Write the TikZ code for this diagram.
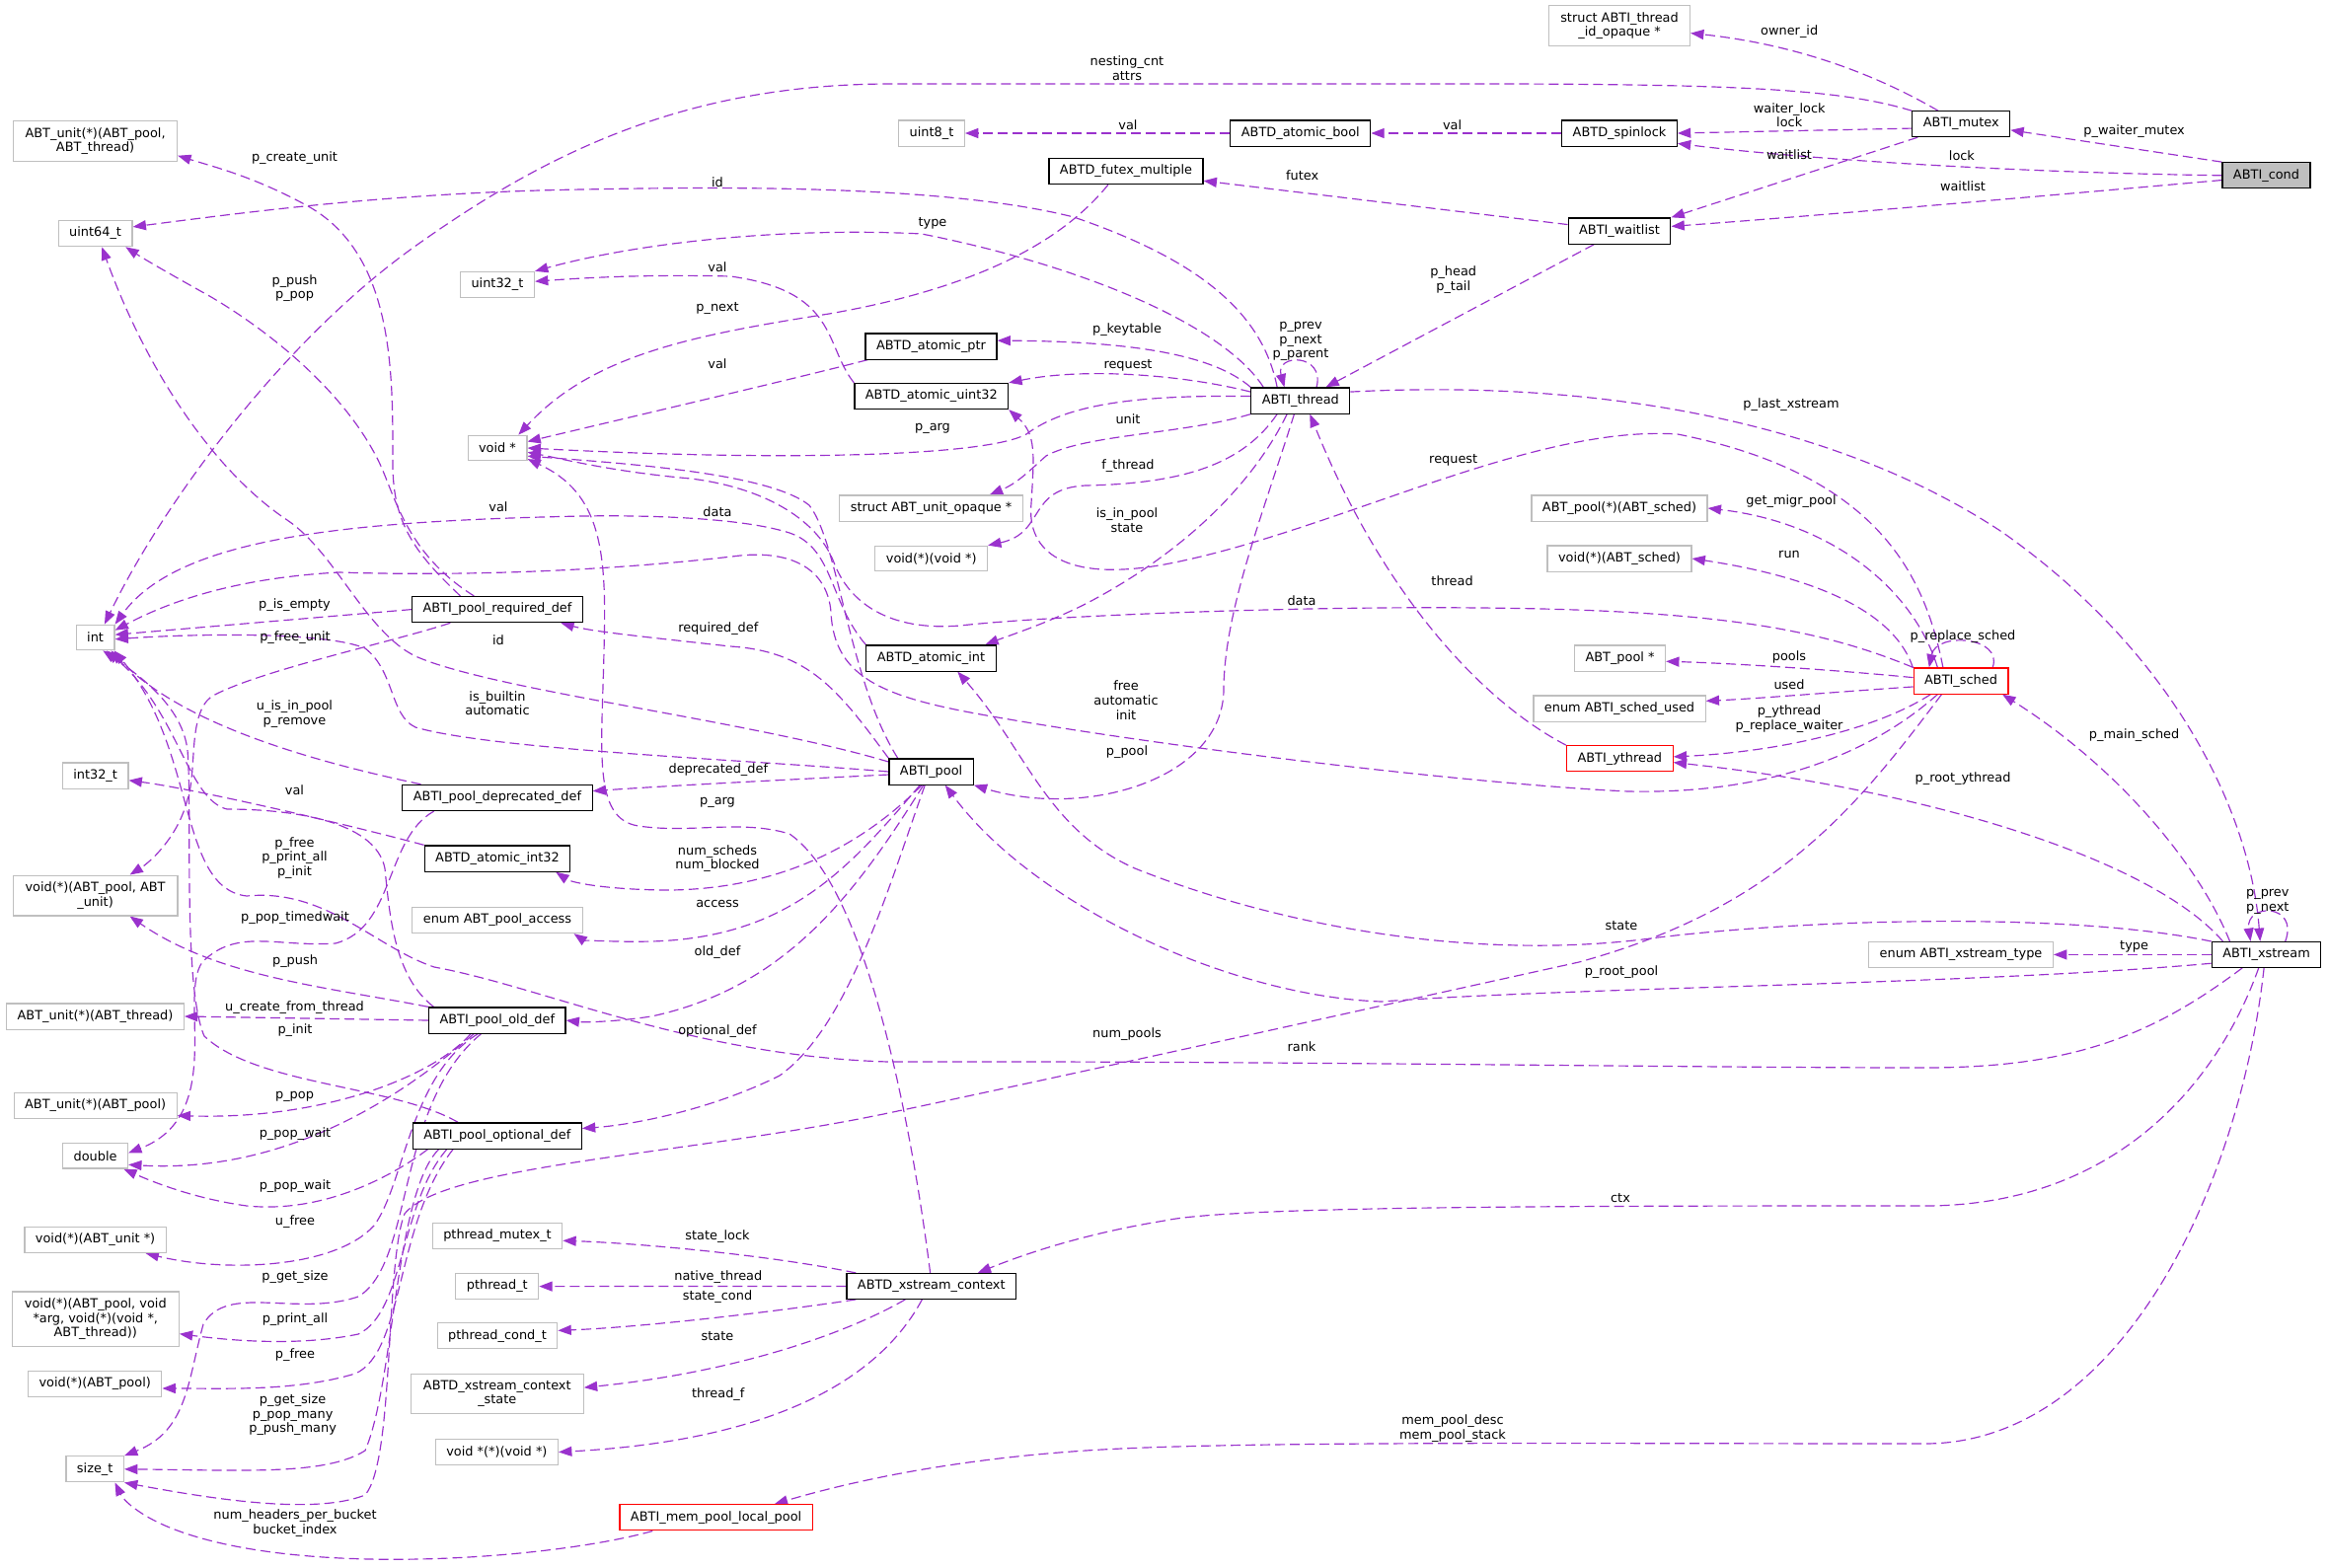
\documentclass[tikz,border=0pt]{standalone}
\usepackage{fontspec}
\setmainfont{DejaVu Sans}
\usepackage{tikz}
\usetikzlibrary{arrows.meta}
\definecolor{edgepurple}{HTML}{9A32CD}
\definecolor{boxgrey}{HTML}{BFBFBF}
\definecolor{boxred}{HTML}{FF0000}
\pgfdeclarelayer{paper}
\pgfdeclarelayer{edges}
\pgfsetlayers{paper,edges,main}

\begin{document}
\begin{tikzpicture}[x=0.03cm, y=-0.03cm,
  font=\fontsize{11}{12.5}\selectfont,
  cls/.style={draw=black, fill=white, line width=1pt, minimum height=0.765cm, inner xsep=0.33cm, inner ysep=0.2cm},
  ext/.style={cls, draw=boxgrey},
  redcls/.style={cls, draw=boxred},
  focus/.style={cls, fill=boxgrey},
  rel/.style={draw=edgepurple, line width=1pt, dash pattern=on 0.3cm off 0.15cm, -{Triangle[length=0.4cm,width=0.3cm]}},
  lbl/.style={align=center, inner sep=0pt}]
  \begin{pgfonlayer}{paper}
    \fill[white] (0,0) rectangle (2359,1588);
  \end{pgfonlayer}
  \useasboundingbox (0,0) rectangle (2359,1588);

  % structs
  \node[focus] (cond) at (2296.5,177.8) {ABTI\_cond};
  \node[cls] (mutex) at (1987.3,125.7) {ABTI\_mutex};
  \node[cls] (spin) at (1641,135) {ABTD\_spinlock};
  \node[cls] (wait) at (1641,234) {ABTI\_waitlist};
  \node[cls] (abool) at (1317.8,135) {ABTD\_atomic\_bool};
  \node[cls] (thread) at (1317.8,406) {ABTI\_thread};
  \node[cls] (futex) at (1141,173.6) {ABTD\_futex\_multiple};
  \node[cls] (aptr) at (943.5,351) {ABTD\_atomic\_ptr};
  \node[cls] (au32) at (943.8,401.5) {ABTD\_atomic\_uint32};
  \node[cls] (aint) at (943.5,667) {ABTD\_atomic\_int};
  \node[cls] (pool) at (943.6,782) {ABTI\_pool};
  \node[cls] (xctx) at (943.8,1303.4) {ABTD\_xstream\_context};
  \node[redcls] (sched) at (1987,690) {ABTI\_sched};
  \node[redcls] (ythread) at (1641.3,768.8) {ABTI\_ythread};
  \node[cls] (xstream) at (2296.5,967.4) {ABTI\_xstream};
  \node[redcls] (mempool) at (725.6,1537.8) {ABTI\_mem\_pool\_local\_pool};
  \node[cls] (reqdef) at (504,617.6) {ABTI\_pool\_required\_def};
  \node[cls] (depdef) at (504,808.4) {ABTI\_pool\_deprecated\_def};
  \node[cls] (ai32) at (504,870) {ABTD\_atomic\_int32};
  \node[cls] (olddef) at (503.8,1034) {ABTI\_pool\_old\_def};
  \node[cls] (optdef) at (503.8,1151) {ABTI\_pool\_optional\_def};

  % plain types
  \node[ext, align=center, minimum width=4.29cm] (tidop) at (1641,26) {struct ABTI\_thread\\\_id\_opaque *};
  \node[ext] (u8) at (944,135) {uint8\_t};
  \node[ext] (unitop) at (943.6,515) {struct ABT\_unit\_opaque *};
  \node[ext] (vfv) at (943.7,566) {void(*)(void *)};
  \node[ext] (poolfs) at (1641,515) {ABT\_pool(*)(ABT\_sched)};
  \node[ext] (vsched) at (1641,566) {void(*)(ABT\_sched)};
  \node[ext] (poolp) at (1641.5,667) {ABT\_pool *};
  \node[ext] (sused) at (1641,718) {enum ABTI\_sched\_used};
  \node[ext] (xtype) at (1987,967.4) {enum ABTI\_xstream\_type};
  \node[ext, align=center, minimum width=4.98cm] (unitPT) at (96.6,143) {ABT\_unit(*)(ABT\_pool,\\ABT\_thread)};
  \node[ext] (u64) at (96.6,236.6) {uint64\_t};
  \node[ext] (u32) at (504,288.5) {uint32\_t};
  \node[ext] (voidp) at (504,454) {void *};
  \node[ext] (int) at (96.6,646) {int};
  \node[ext] (i32) at (96.6,786) {int32\_t};
  \node[ext, align=center, minimum width=5cm] (vpu) at (96.6,907.5) {void(*)(ABT\_pool, ABT\\\_unit)};
  \node[ext] (access) at (504,932.5) {enum ABT\_pool\_access};
  \node[ext] (uthr) at (96.5,1030) {ABT\_unit(*)(ABT\_thread)};
  \node[ext] (upool) at (96.6,1120.3) {ABT\_unit(*)(ABT\_pool)};
  \node[ext] (dbl) at (96.6,1171.3) {double};
  \node[ext] (vunit) at (96.6,1256.4) {void(*)(ABT\_unit *)};
  \node[ext] (pmutex) at (504,1252.6) {pthread\_mutex\_t};
  \node[ext, align=center, minimum width=5.07cm] (vprint) at (96.8,1336.7) {void(*)(ABT\_pool, void\\*arg, void(*)(void *,\\ABT\_thread))};
  \node[ext] (pthr) at (503.8,1303.6) {pthread\_t};
  \node[ext] (pcond) at (504,1353.7) {pthread\_cond\_t};
  \node[ext] (vpool) at (96.2,1402.2) {void(*)(ABT\_pool)};
  \node[ext, align=center, minimum width=5.25cm] (xstate) at (503.8,1412.3) {ABTD\_xstream\_context\\\_state};
  \node[ext] (vfvv) at (503.4,1471.5) {void *(*)(void *)};
  \node[ext] (sizet) at (96.2,1488.8) {size\_t};

  \begin{pgfonlayer}{edges}
  % ABTI_cond, ABTI_mutex, ABTI_waitlist
  \draw[rel] (cond.north west) -- (mutex.-7);
  \draw[rel] (cond.west) .. controls (2000,174) and (1800,158) .. (spin.-10);
  \draw[rel] (cond.-174) .. controls (2100,196) and (1850,218) .. (wait.5);
  \draw[rel] (mutex.150) .. controls (1900,75) and (1820,45) .. (tidop.-6);
  \draw[rel] (mutex.north west) .. controls (1870,92) and (1780,85) .. (1500,85) -- (900,85) .. controls (700,86) and (560,150) .. (420,250) .. controls (280,350) and (160,520) .. (int.55);
  \draw[rel] (mutex.-175) -- (spin.east);
  \draw[rel] (mutex.-163) -- (wait.north east);
  \draw[rel] (spin.west) -- (abool.east);
  \draw[rel] (abool.west) -- (u8.east);
  \draw[rel] (wait.173) -- (futex.-7);
  \draw[rel] (wait.-152) -- (thread.28);
  \draw[rel] (futex.-143) .. controls (1080,240) and (1000,290) .. (840,318) .. controls (700,340) and (600,360) .. (voidp.32);

  % ABTI_thread
  \draw[rel] (thread.150) .. controls (1280,320) and (1220,265) .. (1088,220) .. controls (950,185) and (700,190) .. (590,192) .. controls (400,195) and (250,215) .. (u64.10);
  \draw[rel] (thread.160) .. controls (1240,330) and (1100,270) .. (934,237) .. controls (800,230) and (650,245) .. (u32.north east);
  \draw[rel] (thread.north west) .. controls (1230,360) and (1150,346) .. (aptr.5);
  \draw[rel] (thread.170) .. controls (1200,380) and (1100,372) .. (au32.north east);
  \draw[rel] (thread.175) .. controls (1150,400) and (1080,410) .. (1040,440) .. controls (1000,462) and (800,468) .. (voidp.east);
  \draw[rel] (thread.south west) .. controls (1200,440) and (1100,440) .. (1060,462) .. controls (1040,480) and (1030,490) .. (unitop.13);
  \draw[rel] (thread.-150) .. controls (1260,470) and (1200,490) .. (1100,492) .. controls (1040,495) and (1060,540) .. (vfv.north east);
  \draw[rel] (thread.-135) .. controls (1270,490) and (1200,560) .. (1100,612) .. controls (1060,632) and (1020,645) .. (aint.14);
  \draw[rel] (thread.40) .. controls (1343,358) and (1292,358) .. (thread.140);
  \draw[rel] (thread.-115) .. controls (1280,520) and (1240,620) .. (1240,700) .. controls (1238,790) and (1100,830) .. (pool.south east);
  \draw[rel] (thread.10) .. controls (1600,385) and (1850,420) .. (2030,540) .. controls (2200,660) and (2280,820) .. (xstream.115);
  \draw[rel] (aptr.-168) .. controls (800,385) and (650,420) .. (voidp.12);
  \draw[rel] (au32.north west) .. controls (835,350) and (850,295) .. (740,280) .. controls (660,278) and (600,281) .. (u32.5);

  % ABTI_sched
  \draw[rel] (sched.143) .. controls (1950,580) and (1900,480) .. (1700,440) .. controls (1550,430) and (1350,540) .. (1180,572) .. controls (1080,590) and (1040,560) .. (1045,510) .. controls (1048,460) and (1050,440) .. (au32.south east);
  \draw[rel] (sched.150) .. controls (1940,600) and (1860,530) .. (poolfs.east);
  \draw[rel] (sched.165) .. controls (1920,620) and (1840,585) .. (vsched.east);
  \draw[rel] (sched.north west) .. controls (1850,640) and (1750,618) .. (1500,616) .. controls (1300,614) and (1050,625) .. (973,634) .. controls (900,640) and (860,610) .. (845,570) .. controls (830,530) and (780,495) .. (700,485) .. controls (620,478) and (570,465) .. (voidp.-8);
  \draw[rel] (sched.176) .. controls (1850,678) and (1750,672) .. (poolp.-4);
  \draw[rel] (sched.-173) .. controls (1850,702) and (1780,708) .. (sused.5);
  \draw[rel] (sched.-156) .. controls (1900,740) and (1800,762) .. (ythread.2);
  \draw[rel] (sched.23) .. controls (2030,645) and (1962,640) .. (sched.157);
  \draw[rel] (sched.-150) .. controls (1900,760) and (1800,805) .. (1650,802) .. controls (1500,795) and (1200,760) .. (1011,727) .. controls (900,708) and (845,690) .. (842,620) .. controls (838,575) and (800,558) .. (750,563) .. controls (650,575) and (500,585) .. (344,580) .. controls (250,585) and (180,605) .. (int.20);
  \draw[rel] (sched.-145) .. controls (1880,820) and (1800,920) .. (1600,975) .. controls (1350,1030) and (1150,1075) .. (900,1128) .. controls (700,1170) and (450,1180) .. (410,1230) .. controls (390,1280) and (400,1480) .. (370,1515) .. controls (320,1535) and (220,1520) .. (sizet.south east);
  \draw[rel] (ythread.north west) .. controls (1500,710) and (1400,600) .. (thread.-55);

  % ABTI_xstream
  \draw[rel] (xstream.west) -- (xtype.east);
  \draw[rel] (xstream.35) .. controls (2330,915) and (2275,915) .. (xstream.140);
  \draw[rel] (xstream.160) .. controls (2230,880) and (2150,780) .. (sched.-18);
  \draw[rel] (xstream.163) .. controls (2180,870) and (1950,800) .. (ythread.-4);
  \draw[rel] (xstream.north west) .. controls (2100,925) and (1850,930) .. (1680,950) .. controls (1500,975) and (1300,940) .. (1150,880) .. controls (1060,840) and (1040,760) .. (aint.-27);
  \draw[rel] (xstream.-171) .. controls (2000,998) and (1600,1000) .. (1400,1015) .. controls (1250,1010) and (1050,920) .. (pool.-44);
  \draw[rel] (xstream.-151) .. controls (2180,1050) and (2100,1082) .. (1950,1082) .. controls (1700,1082) and (1300,1075) .. (900,1076) .. controls (700,1070) and (550,1000) .. (440,980) .. controls (380,960) and (330,900) .. (250,908) .. controls (180,900) and (200,760) .. (int.-35);
  \draw[rel] (xstream.-120) .. controls (2250,1090) and (2150,1222) .. (1950,1222) .. controls (1600,1222) and (1250,1222) .. (1180,1237) .. controls (1100,1250) and (1040,1270) .. (xctx.16);
  \draw[rel] (xstream.-100) .. controls (2270,1200) and (2150,1463) .. (1950,1463) .. controls (1600,1463) and (1250,1460) .. (1100,1470) .. controls (950,1480) and (850,1505) .. (mempool.13);

  % ABTD_xstream_context, ABTI_mem_pool_local_pool
  \draw[rel] (xctx.170) .. controls (780,1272) and (650,1260) .. (pmutex.-4);
  \draw[rel] (xctx.west) -- (pthr.east);
  \draw[rel] (xctx.-170) .. controls (780,1330) and (650,1345) .. (pcond.5);
  \draw[rel] (xctx.-153) .. controls (860,1350) and (750,1390) .. (xstate.4);
  \draw[rel] (xctx.-125) .. controls (890,1400) and (780,1460) .. (vfvv.east);
  \draw[rel] (xctx.95) .. controls (925,1150) and (880,900) .. (800,845) .. controls (750,830) and (700,845) .. (647,837) .. controls (600,830) and (610,760) .. (612,660) .. controls (615,560) and (610,500) .. (voidp.-20);
  \draw[rel] (mempool.-168) .. controls (560,1580) and (300,1600) .. (172,1548) .. controls (140,1535) and (125,1520) .. (sizet.-34);

  % ABTI_pool
  \draw[rel] (pool.158) .. controls (860,690) and (850,550) .. (820,512) .. controls (780,480) and (640,470) .. (voidp.-15);
  \draw[rel] (pool.north west) .. controls (850,700) and (820,660) .. (740,655) .. controls (650,645) and (600,640) .. (reqdef.-12);
  \draw[rel] (pool.-176) .. controls (800,790) and (680,796) .. (depdef.4);
  \draw[rel] (pool.167) .. controls (760,730) and (500,700) .. (421,665) .. controls (370,640) and (340,560) .. (291,527) .. controls (220,480) and (150,380) .. (u64.-64);
  \draw[rel] (pool.west) .. controls (760,770) and (500,760) .. (421,737) .. controls (395,725) and (400,680) .. (370,657) .. controls (330,640) and (200,642) .. (int.-5);
  \draw[rel] (pool.-125) .. controls (880,850) and (800,900) .. (680,902) .. controls (620,902) and (580,895) .. (ai32.-13);
  \draw[rel] (pool.-130) .. controls (860,880) and (800,950) .. (660,954) .. controls (620,955) and (590,952) .. (access.-10);
  \draw[rel] (pool.-120) .. controls (870,900) and (800,1000) .. (660,1030) .. controls (620,1036) and (590,1036) .. (olddef.east);
  \draw[rel] (pool.-115) .. controls (900,900) and (860,1040) .. (790,1090) .. controls (720,1125) and (640,1140) .. (optdef.5);
  \draw[rel] (aint.north west) .. controls (840,610) and (845,555) .. (800,540) .. controls (750,524) and (650,522) .. (590,523) .. controls (350,528) and (180,545) .. (int.north east);
  \draw[rel] (ai32.north west) .. controls (350,835) and (200,800) .. (i32.-8);

  % pool definitions
  \draw[rel] (reqdef.160) .. controls (420,560) and (398,530) .. (398,470) .. controls (398,380) and (400,260) .. (314,210) .. controls (260,180) and (220,170) .. (unitPT.-10);
  \draw[rel] (reqdef.150) .. controls (410,560) and (400,500) .. (383,466) .. controls (350,400) and (280,340) .. (214,301) .. controls (180,282) and (150,265) .. (u64.-24);
  \draw[rel] (reqdef.west) -- (int.8);
  \draw[rel] (reqdef.-164) .. controls (400,650) and (260,680) .. (214,706) .. controls (190,725) and (200,780) .. (190,810) .. controls (180,850) and (150,875) .. (vpu.31);
  \draw[rel] (depdef.170) .. controls (300,768) and (180,730) .. (int.-40);
  \draw[rel] (depdef.-168) .. controls (390,850) and (400,940) .. (340,956) .. controls (280,960) and (240,940) .. (205,975) .. controls (180,1010) and (230,1130) .. (dbl.5);
  \draw[rel] (olddef.west) -- (uthr.east);
  \draw[rel] (olddef.north west) .. controls (330,1000) and (220,990) .. (vpu.-31);
  \draw[rel] (olddef.168) .. controls (400,990) and (395,930) .. (390,880) .. controls (380,830) and (290,820) .. (230,820) .. controls (190,810) and (180,720) .. (int.-50);
  \draw[rel] (olddef.-153) .. controls (440,1090) and (330,1135) .. (upool.-7);
  \draw[rel] (olddef.-150) .. controls (420,1100) and (300,1190) .. (dbl.-15);
  \draw[rel] (olddef.-145) .. controls (415,1090) and (410,1200) .. (379,1242) .. controls (340,1285) and (230,1290) .. (vunit.-15);
  \draw[rel] (olddef.-140) .. controls (400,1120) and (420,1280) .. (363,1314) .. controls (300,1335) and (230,1300) .. (206,1342) .. controls (190,1400) and (190,1450) .. (sizet.north east);
  \draw[rel] (optdef.161) .. controls (400,1100) and (260,1100) .. (207,1050) .. controls (185,1000) and (195,820) .. (190,760) .. controls (185,720) and (150,690) .. (int.-60);
  \draw[rel] (optdef.-169) .. controls (400,1190) and (330,1230) .. (250,1222) .. controls (200,1215) and (160,1200) .. (dbl.-25);
  \draw[rel] (optdef.-165) .. controls (405,1220) and (410,1330) .. (363,1352) .. controls (300,1365) and (230,1358) .. (vprint.-10);
  \draw[rel] (optdef.-163) .. controls (400,1240) and (410,1370) .. (360,1392) .. controls (300,1410) and (230,1407) .. (vpool.-4);
  \draw[rel] (optdef.-167) .. controls (400,1210) and (400,1400) .. (370,1470) .. controls (330,1495) and (250,1490) .. (sizet.east);
  \end{pgfonlayer}

  % member labels
  \foreach \lx/\ly/\txt [count=\i] in {
    298.5/160.6/p\_create\_unit, 298.5/292/p\_push\\p\_pop, 298.5/613/p\_is\_empty,
    299/645.7/p\_free\_unit, 298.5/723.5/u\_is\_in\_pool\\p\_remove, 298.5/800.7/val,
    298.5/869.5/p\_free\\p\_print\_all\\p\_init, 299/929.8/p\_pop\_timedwait, 299/974.6/p\_push,
    298.5/1021/u\_create\_from\_thread, 299/1044.5/p\_init, 298.5/1111/p\_pop,
    299/1148.8/p\_pop\_wait, 299/1201.7/p\_pop\_wait, 299/1237.7/u\_free,
    299/1294.6/p\_get\_size, 299/1337.5/p\_print\_all, 299/1373.2/p\_free,
    296.6/1433.7/p\_get\_size\\p\_pop\_many\\p\_push\_many, 299/1543.4/num\_headers\_per\_bucket\\bucket\_index,
    505/514/val, 505/649/id, 504/712.8/is\_builtin\\automatic,
    727/184.2/id, 727/270.4/val, 727/312.7/p\_next, 727/369/val, 727/518.2/data,
    727.8/637.1/required\_def, 727.8/780/deprecated\_def, 727/813.4/p\_arg,
    727/870/num\_scheds\\num\_blocked, 727/916/access, 727/965.3/old\_def,
    727/1045.2/optional\_def, 727/1253.5/state\_lock, 727.8/1294.3/native\_thread,
    727/1314.2/state\_cond, 727/1354.3/state, 727.8/1413/thread\_f,
    945/226.5/type, 945/434.3/p\_arg,
    1142/69/nesting\_cnt\\attrs, 1143/126.4/val, 1142/334.6/p\_keytable,
    1143/370.8/request, 1143/424.5/unit, 1143/471.9/f\_thread,
    1142/527.5/is\_in\_pool\\state, 1141/709.5/free\\automatic\\init, 1142/762.1/p\_pool,
    1142/1048.6/num\_pools,
    1319.7/178.1/futex, 1318/346/p\_prev\\p\_next\\p\_parent, 1319/608.5/data, 1319/1061/rank,
    1471.6/126.4/val, 1472.7/283.6/p\_head\\p\_tail, 1472.7/466.5/request,
    1471.6/588.2/thread, 1472/1447.7/mem\_pool\_desc\\mem\_pool\_stack,
    1643/938.4/state, 1643/984.9/p\_root\_pool, 1642/1214/ctx,
    1813.2/32.1/owner\_id, 1813.2/116.8/waiter\_lock\\lock, 1813/156.2/waitlist,
    1815/409.7/p\_last\_xstream, 1815/508/get\_migr\_pool, 1813/562/run,
    1813/665.7/pools, 1813/693.2/used, 1813/728.8/p\_ythread\\p\_replace\_waiter,
    1987.9/157.2/lock, 1989/188.3/waitlist, 1989/644.7/p\_replace\_sched,
    1989/789.3/p\_root\_ythread,
    2162.6/133.5/p\_waiter\_mutex, 2162.6/745.6/p\_main\_sched, 2162.6/959.1/type,
    2297.8/914.2/p\_prev\\p\_next}
    \node[lbl] (lab\i) at (\lx,\ly) {\txt};
\end{tikzpicture}
\end{document}
